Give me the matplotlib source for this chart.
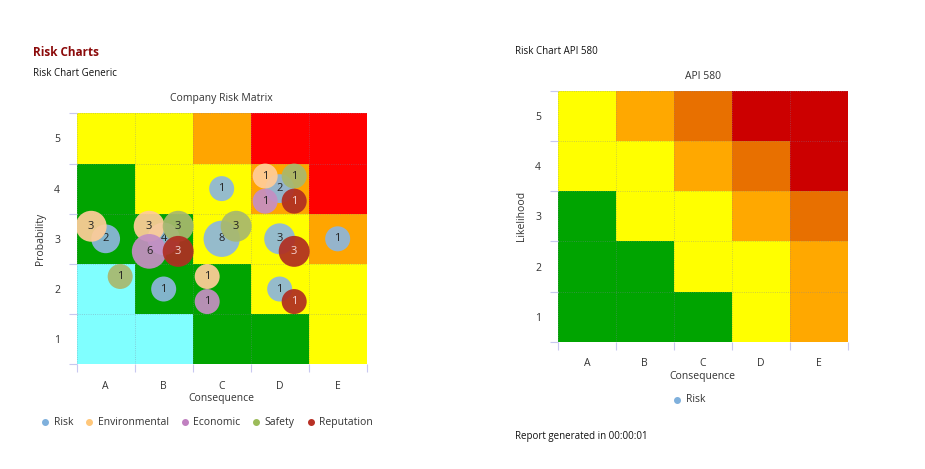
import numpy as np
import matplotlib
matplotlib.use('Agg')
import matplotlib.pyplot as plt
from matplotlib.colors import ListedColormap

plt.rcParams['font.family'] = ['Open Sans', 'DejaVu Sans']

consequences = ['A', 'B', 'C', 'D', 'E']
levels = [1, 2, 3, 4, 5]

# risk level per cell, rows = likelihood 1..5 (bottom to top), cols = A..E
generic_matrix = [
    [0, 0, 1, 1, 2],
    [0, 1, 1, 2, 2],
    [1, 1, 2, 2, 3],
    [1, 2, 2, 3, 4],
    [2, 2, 3, 4, 4],
]
generic_colors = ['#80ffff', '#00a400', '#ffff00', '#ffa500', '#ff0000']

api_matrix = [
    [0, 0, 0, 1, 2],
    [0, 0, 1, 1, 2],
    [0, 1, 1, 2, 3],
    [1, 1, 2, 3, 4],
    [1, 2, 3, 4, 4],
]
api_colors = ['#00a400', '#ffff00', '#ffa800', '#e87000', '#cc0000']

# bubbles: consequence, probability, count
risk_cons = ['A', 'B', 'B', 'C', 'C', 'D', 'D', 'D', 'E']
risk_prob = [3, 3, 2, 4, 3, 4, 3, 2, 3]
risk_count = [2, 4, 1, 1, 8, 2, 3, 1, 1]

env_cons = ['A', 'B', 'C', 'D']
env_prob = [3, 3, 2, 4]
env_count = [3, 3, 1, 1]

eco_cons = ['B', 'C', 'D']
eco_prob = [3, 2, 4]
eco_count = [6, 1, 1]

safety_cons = ['A', 'B', 'C', 'D']
safety_prob = [2, 3, 3, 4]
safety_count = [1, 3, 3, 1]

rep_cons = ['B', 'D', 'D', 'D']
rep_prob = [3, 4, 3, 2]
rep_count = [3, 1, 3, 1]

series = [
    ('Risk', risk_cons, risk_prob, risk_count, '#8db6dc', '#7fb0dc', (0.0, 0.0), '#222222'),
    ('Environmental', env_cons, env_prob, env_count, '#ffcc99', '#ffc77a', (-0.25, 0.25), '#222222'),
    ('Economic', eco_cons, eco_prob, eco_count, '#c58fc3', '#c080c0', (-0.25, -0.25), '#222222'),
    ('Safety', safety_cons, safety_prob, safety_count, '#a8b86e', '#9bbb59', (0.25, 0.25), '#222222'),
    ('Reputation', rep_cons, rep_prob, rep_count, '#b02e22', '#b83025', (0.25, -0.25), '#f5d5d5'),
]

grid_col = '#c8c8f0'
tick_col = '#333333'


def style_axes(ax, ylabel):
    ax.set_xlim(0.5, 5.5)
    ax.set_ylim(0.5, 5.5)
    ax.set_xticks(range(1, 6))
    ax.set_xticklabels(consequences)
    ax.set_yticks(levels)
    ax.set_yticks(np.arange(0.5, 6, 1), minor=True)
    ax.set_xticks(np.arange(0.5, 6, 1), minor=True)
    ax.tick_params(which='major', length=0, labelsize=7.5, colors=tick_col, pad=12)
    ax.tick_params(which='minor', length=6, color=grid_col, width=0.8)
    for s in ax.spines.values():
        s.set_visible(False)
    ax.grid(which='minor', color='#8080a0', linestyle=':', linewidth=0.6, alpha=0.5)
    ax.set_axisbelow(False)
    ax.set_xlabel('Consequence', fontsize=7.5, color=tick_col, labelpad=1)
    ax.set_ylabel(ylabel, fontsize=7.5, color=tick_col, labelpad=6)


fig = plt.figure(figsize=(9.25, 4.69), dpi=100)

# left: generic risk chart
ax1 = fig.add_axes([0.0829, 0.2232, 0.3135, 0.5352])
x_edges = np.arange(0.5, 6, 1)
ax1.pcolormesh(x_edges, x_edges, np.array(generic_matrix),
               cmap=ListedColormap(generic_colors), vmin=-0.5, vmax=4.5, zorder=0)
style_axes(ax1, 'Probability')
ax1.set_title('Company Risk Matrix', fontsize=7.5, color=tick_col, pad=9)

for i, (name, cons, prob, count, col, lcol, off, tcol) in enumerate(series):
    xs = np.array([consequences.index(c) + 1 for c in cons]) + off[0]
    ys = np.array(prob) + off[1]
    r_px = 12.5 + 2.7 * np.log(np.array(count))
    sizes = (2 * r_px * 0.72) ** 2
    ax1.scatter(xs, ys, s=sizes, color=col, alpha=0.93, edgecolors='none', zorder=3 + 2 * i)
    for x, y, n in zip(xs, ys, count):
        ax1.text(x, y, str(n), ha='center', va='center', fontsize=8,
                 color=tcol, zorder=4 + 2 * i)
    ax1.scatter([], [], s=16, color=lcol, label=name)

ax1.legend(loc='center left', bbox_to_anchor=(40 / 925, 1 - 422 / 469),
           bbox_transform=fig.transFigure, ncol=5, frameon=False,
           fontsize=7.5, handlelength=1, handletextpad=0.3, columnspacing=1.05,
           borderpad=0, borderaxespad=0, labelcolor=tick_col)

# right: API 580 chart
ax2 = fig.add_axes([0.603, 0.2714, 0.3135, 0.5345])
ax2.pcolormesh(x_edges, x_edges, np.array(api_matrix),
               cmap=ListedColormap(api_colors), vmin=-0.5, vmax=4.5, zorder=0)
style_axes(ax2, 'Likelihood')
ax2.set_title('API 580', fontsize=7.5, color=tick_col, pad=9)
ax2.scatter([], [], s=16, color='#7fb0dc', label='Risk')
ax2.legend(loc='center left', bbox_to_anchor=(672 / 925, 1 - 400 / 469),
           bbox_transform=fig.transFigure, frameon=False,
           fontsize=7.5, handlelength=1, handletextpad=0.3,
           borderpad=0, borderaxespad=0, labelcolor=tick_col)

# page texts
fig.text(33 / 925, 1 - 52 / 469, 'Risk Charts', fontsize=8.5, fontweight='bold',
         color='#8b0a0a', va='center')
fig.text(33 / 925, 1 - 74 / 469, 'Risk Chart Generic', fontsize=7, color='#111111', va='center')
fig.text(515 / 925, 1 - 52 / 469, 'Risk Chart API 580', fontsize=7, color='#111111', va='center')
fig.text(515 / 925, 1 - 437 / 469, 'Report generated in 00:00:01', fontsize=7,
         color='#111111', va='center')

fig.savefig('out.png', dpi=100)
